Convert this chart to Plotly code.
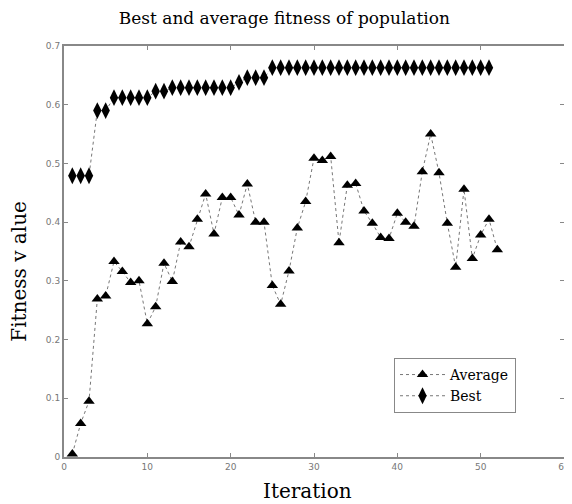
import plotly.graph_objects as go

iterations_avg = list(range(1, 53))
average = [0.005, 0.057, 0.095, 0.269, 0.274, 0.333, 0.316, 0.297, 0.300, 0.227,
           0.256, 0.330, 0.299, 0.366, 0.358, 0.405, 0.448, 0.380, 0.442, 0.442,
           0.412, 0.465, 0.400, 0.400, 0.292, 0.260, 0.317, 0.390, 0.435, 0.509,
           0.505, 0.512, 0.365, 0.463, 0.466, 0.419, 0.398, 0.374, 0.372, 0.415,
           0.400, 0.393, 0.486, 0.550, 0.484, 0.398, 0.323, 0.456, 0.338, 0.378,
           0.405, 0.353]
iterations_best = list(range(1, 52))
best = [0.479, 0.479, 0.479, 0.590, 0.590, 0.612, 0.612, 0.612, 0.612, 0.612,
        0.623, 0.623, 0.629, 0.629, 0.629, 0.629, 0.629, 0.629, 0.629, 0.629,
        0.638, 0.646, 0.646, 0.646] + [0.663] * 27

x_ticks = [0, 10, 20, 30, 40, 50, 60]
y_ticks = [0, 0.1, 0.2, 0.3, 0.4, 0.5, 0.6, 0.7]
y_tick_text = ["0", "0.1", "0.2", "0.3", "0.4", "0.5", "0.6", "0.7"]

serif = "DejaVu Serif"

fig = go.Figure()
fig.add_trace(go.Scatter(
    x=iterations_avg, y=average, name="Average", mode="lines+markers",
    line=dict(color="#777777", width=1, dash="dot"),
    marker=dict(symbol="triangle-up", size=10, color="black"),
))
fig.add_trace(go.Scatter(
    x=iterations_best, y=best, name="Best", mode="lines+markers",
    line=dict(color="#777777", width=1, dash="dot"),
    marker=dict(symbol="diamond-tall", size=12, color="black"),
))

axis_common = dict(
    showgrid=False, zeroline=False, showline=True, linecolor="#888888", linewidth=2,
    mirror="ticks", ticks="inside", ticklen=4, tickcolor="#888888",
    tickfont=dict(family="DejaVu Sans", size=9, color="#777777"),
    automargin=False,
)
fig.update_xaxes(range=[0, 60], tickvals=x_ticks, **axis_common)
fig.update_yaxes(range=[0, 0.7], tickvals=y_ticks, ticktext=y_tick_text, **axis_common)

fig.add_annotation(text="Iteration", xref="paper", yref="paper", x=0.486, y=-0.082,
                   xanchor="center", yanchor="middle", showarrow=False,
                   font=dict(family=serif, size=20, color="black"))
fig.add_annotation(text="Fitness v alue", xref="paper", yref="paper", x=-0.089, y=0.452,
                   xanchor="center", yanchor="middle", showarrow=False, textangle=-90,
                   font=dict(family=serif, size=20, color="black"))

fig.update_layout(
    width=564, height=496,
    margin=dict(l=56, r=8, t=38, b=47),
    paper_bgcolor="white", plot_bgcolor="white",
    title=dict(text="Best and average fitness of population", x=0.49, xanchor="center",
               y=0.98, yanchor="middle",
               font=dict(family=serif, size=17, color="black")),
    legend=dict(x=0.66, y=0.241, xanchor="left", yanchor="top",
                bordercolor="#888888", borderwidth=1, bgcolor="white",
                font=dict(family=serif, size=14, color="black"),
                itemwidth=45, tracegroupgap=0),
    showlegend=True,
)

fig.write_html("out.html")
